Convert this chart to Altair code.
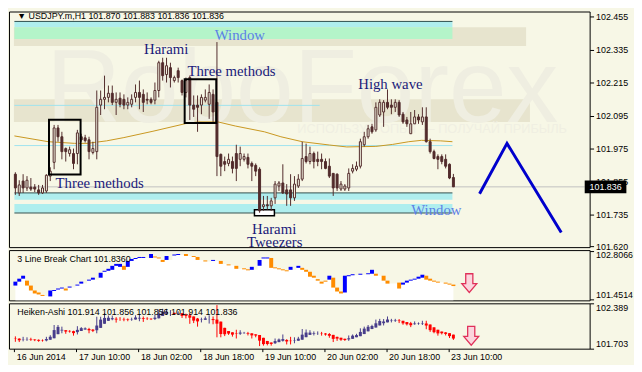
import altair as alt
import pandas as pd

# ---------------- colours / fonts ----------------
BG = "#F7F7E6"
DARK = "#522C2C"
BEIGE = "#E7E4CE"
CYAN = "#AFEEEE"
GREEN = "#B4F4C9"
SLATE = "#2F4F4F"
CYANLINE = "#9FE3EE"
GOLD = "#C8961E"
NAVY = "#1A1A7A"
LBLUE = "#5B7FE6"
SANS = "Liberation Sans"
SERIF = "Liberation Serif"

# ---------------- main candles (USDJPY H1) ----------------
opens = [101.882, 101.814, 101.857, 101.832, 101.835, 101.835, 101.825, 101.814, 101.821, 101.875,
         101.925, 102.050, 102.018, 101.975, 101.957, 101.957, 101.957, 102.018, 102.014, 102.007,
         101.961, 101.964, 102.133, 102.154, 102.161, 102.176, 102.143, 102.158, 102.154, 102.133,
         102.136, 102.161, 102.179, 102.172, 102.154, 102.154, 102.151, 102.186, 102.287, 102.244,
         102.269, 102.222, 102.258, 102.222, 102.179, 102.233, 102.133, 102.133, 102.133, 102.151,
         102.136, 102.172, 102.143, 101.954, 101.928, 101.921, 101.928, 101.957, 101.936, 101.936,
         101.943, 101.921, 101.914, 101.900, 101.764, 101.771, 101.767, 101.796, 101.839, 101.850,
         101.825, 101.825, 101.796, 101.839, 101.864, 101.946, 101.928, 101.957, 101.936, 101.936,
         101.928, 101.911, 101.885, 101.882, 101.828, 101.828, 101.832, 101.893, 101.900, 101.911,
         101.989, 102.018, 102.054, 102.043, 102.097, 102.108, 102.143, 102.133, 102.125, 102.143,
         102.100, 102.079, 102.029, 102.065, 102.090, 102.072, 102.090, 102.000, 101.964, 101.946,
         101.946, 101.936, 101.918, 101.870]
highs = [101.889, 101.860, 101.882, 101.875, 101.868, 101.846, 101.843, 101.843, 101.882, 101.907,
         102.061, 102.061, 102.036, 101.979, 101.982, 101.975, 102.043, 102.029, 102.025, 102.018,
         102.000, 102.186, 102.186, 102.240, 102.204, 102.204, 102.179, 102.179, 102.172, 102.161,
         102.172, 102.208, 102.222, 102.190, 102.179, 102.161, 102.215, 102.294, 102.305, 102.305,
         102.287, 102.240, 102.269, 102.226, 102.233, 102.240, 102.168, 102.168, 102.172, 102.190,
         102.208, 102.190, 102.362, 101.957, 101.946, 101.957, 101.946, 101.989, 101.982, 101.957,
         101.957, 101.928, 101.921, 101.907, 101.803, 101.803, 101.796, 101.857, 101.857, 101.918,
         101.846, 101.882, 101.875, 101.882, 102.000, 101.993, 101.982, 101.964, 101.964, 101.957,
         101.939, 101.939, 101.885, 101.885, 101.857, 101.846, 101.903, 101.918, 101.928, 102.011,
         102.036, 102.061, 102.065, 102.143, 102.154, 102.151, 102.190, 102.154, 102.154, 102.151,
         102.108, 102.090, 102.108, 102.115, 102.100, 102.125, 102.125, 102.011, 101.971, 101.954,
         101.954, 101.954, 101.921, 101.883]
lows = [101.807, 101.803, 101.814, 101.821, 101.821, 101.817, 101.807, 101.810, 101.814, 101.857,
        101.900, 102.000, 101.936, 101.928, 101.946, 101.900, 101.918, 102.000, 101.997, 101.936,
        101.954, 101.936, 102.097, 102.118, 102.143, 102.133, 102.097, 102.125, 102.118, 102.118,
        102.125, 102.143, 102.118, 102.108, 102.136, 102.136, 102.136, 102.161, 102.222, 102.215,
        102.197, 102.215, 102.215, 102.168, 102.161, 102.079, 102.090, 102.036, 102.100, 102.143,
        102.083, 102.072, 101.875, 101.875, 101.893, 101.911, 101.885, 101.857, 101.911, 101.928,
        101.903, 101.857, 101.875, 101.742, 101.749, 101.753, 101.749, 101.774, 101.821, 101.810,
        101.767, 101.767, 101.785, 101.832, 101.857, 101.921, 101.918, 101.903, 101.911, 101.900,
        101.900, 101.868, 101.803, 101.821, 101.821, 101.821, 101.821, 101.885, 101.893, 101.903,
        101.982, 102.011, 102.029, 102.036, 102.090, 102.054, 102.118, 102.100, 102.108, 102.090,
        102.065, 102.054, 102.029, 102.065, 102.065, 102.061, 101.997, 101.957, 101.936, 101.900,
        101.918, 101.903, 101.864, 101.836]
closes = [101.832, 101.843, 101.832, 101.860, 101.828, 101.828, 101.814, 101.832, 101.878, 101.893,
          102.050, 102.018, 101.964, 101.964, 101.971, 101.921, 102.032, 102.007, 102.004, 101.964,
          101.975, 102.125, 102.154, 102.161, 102.176, 102.143, 102.154, 102.136, 102.133, 102.143,
          102.154, 102.179, 102.161, 102.143, 102.151, 102.143, 102.186, 102.287, 102.240, 102.276,
          102.233, 102.233, 102.233, 102.179, 102.222, 102.133, 102.118, 102.125, 102.161, 102.161,
          102.179, 102.108, 101.946, 101.911, 101.918, 101.936, 101.903, 101.903, 101.957, 101.946,
          101.918, 101.911, 101.893, 101.749, 101.771, 101.767, 101.785, 101.846, 101.850, 101.814,
          101.810, 101.796, 101.846, 101.864, 101.939, 101.928, 101.957, 101.928, 101.928, 101.928,
          101.903, 101.875, 101.832, 101.832, 101.846, 101.839, 101.885, 101.903, 101.911, 102.000,
          102.018, 102.047, 102.036, 102.125, 102.143, 102.143, 102.125, 102.125, 102.143, 102.097,
          102.072, 102.065, 102.065, 102.090, 102.079, 102.090, 102.000, 101.964, 101.939, 101.936,
          101.928, 101.911, 101.868, 101.836]

# moving average (bar index, value)
ma_idx = [-0.25, 8.5, 15.25, 18.5, 23.5, 28, 35.5, 44, 47.25, 52.25, 56.75, 64.25, 68.5,
          74, 81, 85.5, 93, 97.25, 101.5, 104.75, 109.75, 112.75]
ma_val = [102.021, 102.000, 101.994, 101.994, 102.003, 102.015, 102.038, 102.066, 102.072,
          102.072, 102.057, 102.036, 102.018, 102.000, 101.988, 101.981, 101.983, 101.990,
          102.000, 102.005, 102.003, 102.000]

# 3 Line Break bricks (top, bottom, direction u/d, x = none)
lb_hi = [101.949, 102.032, 102.115, 101.977, 101.839, 101.701, 101.645, 101.576, None, 101.701,
         101.714, 101.756, 101.783, 101.756, 101.811, None, 101.866, 101.949, None, 102.005,
         102.060, None, 102.198, 102.254, 102.309, 102.392, 102.447, 102.447, 102.392, 102.530,
         102.585, 102.613, 102.641, 102.641, None, 102.724, 102.655, 102.627, 102.558, 102.668,
         None, 102.710, 102.724, None, 102.724, None, 102.668, 102.641, None, 102.544,
         None, 102.558, None, 102.530, None, 102.433, None, 102.392, None, 102.323,
         102.295, 102.364, None, 102.558, 102.627, 102.627, 102.613, 102.350, 102.323, 102.295,
         102.267, 102.364, None, 102.392, 102.336, 102.281, 102.226, 102.115, 102.019, 101.949,
         101.977, 102.115, 102.060, 101.783, 101.673, 102.115, 102.129, 102.157, None, 102.171,
         None, 102.184, 102.281, 102.171, None, 102.115, 101.977, None, None, 101.922,
         101.922, 101.977, 102.005, 102.032, 102.088, 102.143, 102.115, 102.032, 101.977, 101.949,
         None, 101.922, 101.894, 101.866]
lb_lo = [101.839, 101.949, 102.032, 101.839, 101.701, 101.618, 101.590, 101.548, None, 101.535,
         101.687, 101.728, 101.756, 101.701, 101.783, None, 101.839, 101.894, None, 101.977,
         102.005, None, 102.060, 102.226, 102.254, 102.281, 102.392, 102.364, 102.281, 102.364,
         102.530, 102.585, 102.613, 102.613, None, 102.613, 102.627, 102.599, 102.502, 102.558,
         None, 102.682, 102.696, None, 102.668, None, 102.641, 102.558, None, 102.516,
         None, 102.530, None, 102.447, None, 102.406, None, 102.309, None, 102.295,
         102.267, 102.281, None, 102.392, 102.599, 102.599, 102.336, 102.323, 102.295, 102.267,
         102.240, 102.281, None, 102.336, 102.281, 102.226, 102.088, 102.060, 101.977, 101.894,
         101.949, 102.005, 101.783, 101.673, 101.618, 101.645, 102.101, 102.129, None, 102.143,
         None, 102.157, 102.171, 102.115, None, 101.977, 101.894, None, None, 101.756,
         101.866, 101.922, 101.977, 102.005, 102.032, 102.060, 102.005, 101.977, 101.949, 101.922,
         None, 101.894, 101.866, 101.825]
lb_dir = ("uuudddddxu" "uuuduxuuxu" "uxuuuuuudu" "uuuuxudddu" "xuuxdxddxd" "xuxdxdxdxd"
          "duxuuudddd" "duxudddddd" "duddduuuxu" "xuudxddxxd" "uuuuuudddd" "xddd")

# annotation objects on the main chart
zz_idx = [119.75, 126.825, 140.825]
zz_val = [101.811, 101.994, 101.670]
price_ticks = [102.455, 102.335, 102.215, 102.095, 101.975, 101.855, 101.735, 101.620]
lb_ticks = [102.8066, 101.4514]
ha_ticks = [102.389, 101.703]
time_tick_idx = [0, 16, 32, 48, 64, 80, 96, 112]
time_labels = ["16 Jun 2014", "17 Jun 10:00", "18 Jun 02:00", "18 Jun 18:00",
               "19 Jun 10:00", "20 Jun 02:00", "20 Jun 18:00", "23 Jun 10:00"]
last_price = 101.836

ann_text = ["Window", "Harami", "Three methods", "High wave", "Three methods",
            "Harami", "Tweezers", "Window"]
ann_idx = [57.9, 38.9, 55.75, 96.75, 21.75, 66.75, 66.9, 108.6]
ann_val = [102.387, 102.337, 102.256, 102.210, 101.851, 101.683, 101.635, 101.753]
ann_col = [LBLUE, NAVY, NAVY, NAVY, NAVY, NAVY, NAVY, LBLUE]

X0, X1 = -0.375, 146.875
TAG_X1 = 157.625

# ---------------- derived tables ----------------
n = len(opens)
idx = list(range(n))
cand = pd.DataFrame({"i": idx, "o": opens, "h": highs, "l": lows, "c": closes})
cand["fill"] = [BG if c >= o else DARK for o, c in zip(opens, closes)]

ha_o, ha_c, ha_h, ha_l = [], [], [], []
for k in range(n):
    hc = (opens[k] + highs[k] + lows[k] + closes[k]) / 4
    ho = (opens[0] + closes[0]) / 2 if k == 0 else (ha_o[k - 1] + ha_c[k - 1]) / 2
    ha_o.append(ho)
    ha_c.append(hc)
    ha_h.append(max(highs[k], ho, hc))
    ha_l.append(min(lows[k], ho, hc))
ha = pd.DataFrame({"i": idx, "o": ha_o, "c": ha_c, "h": ha_h, "l": ha_l})
ha["col"] = ["#483D8B" if c >= o else "#FF0000" for o, c in zip(ha_o, ha_c)]

bricks = pd.DataFrame({"i": idx, "hi": lb_hi, "lo": lb_lo, "d": list(lb_dir)})
bricks = bricks[bricks["d"] != "x"].copy()
bricks["col"] = ["#0000FF" if d == "u" else "#FF8C00" for d in bricks["d"]]
tops = []
last = lb_lo[0]
for v in lb_lo:
    if v is not None:
        last = v
    tops.append(last)
LB_MIN, LB_MAX = 101.424, 102.834
area = pd.DataFrame({"i": idx, "top": tops, "base": [LB_MIN] * n})

bands = pd.DataFrame({
    "x0": [X0, X0, -0.25, -0.25, -0.25, -0.25],
    "x1": [131.75, 132.75, 112.75, 112.75, 112.75, 112.75],
    "y0": [102.348, 102.072, 102.416, 102.373, 101.789, 101.742],
    "y1": [102.416, 102.154, 102.437, 102.416, 101.814, 101.774],
    "col": [BEIGE, BEIGE, CYAN, GREEN, CYAN, CYAN],
})
hlines = pd.DataFrame({
    "x0": [-0.25, -0.25, -0.25, -0.25, -0.25, -0.25],
    "x1": [112.75, 112.75, 112.75, 112.75, 78.5, X1],
    "y": [102.437, 101.814, 101.741, 101.986, 102.132, last_price],
    "col": [SLATE, SLATE, SLATE, CYANLINE, CYANLINE, "#C0C0C0"],
})
boxes = pd.DataFrame({"x0": [8.675, 43.675], "x1": [16.825, 51.825],
                      "y0": [101.881, 102.068], "y1": [102.080, 102.227]})
tweez = pd.DataFrame({"x0": [61.675], "x1": [66.825], "y0": [101.731], "y1": [101.753]})
ma = pd.DataFrame({"i": ma_idx, "v": ma_val})
zz = pd.DataFrame({"i": zz_idx, "v": zz_val})
ann = pd.DataFrame({"i": ann_idx, "v": ann_val, "t": ann_text, "col": ann_col})

# ---------------- scales / helpers ----------------
xs = alt.Scale(domain=[X0, X1], nice=False, zero=False)
ys_main = alt.Scale(domain=[101.617, 102.473], nice=False, zero=False)
ys_lb = alt.Scale(domain=[LB_MIN, LB_MAX], nice=False, zero=False)
ys_ha = alt.Scale(domain=[101.703, 102.389], nice=False, zero=False)

axis_common = dict(title=None, grid=False, domain=False, tickSize=4, tickColor="black",
                   labelPadding=2, labelFont=SANS, labelFontSize=9, labelColor="black",
                   labelOverlap=False, orient="right")
main_axis = alt.Axis(values=price_ticks, format=".3f", **axis_common)
edge_base = {"condition": {"test": "datum.value > 102", "value": "top"}, "value": "bottom"}
lb_axis = alt.Axis(values=lb_ticks, format=".4f", labelBaseline=edge_base, **axis_common)
ha_axis = alt.Axis(values=ha_ticks, format=".3f", labelBaseline=edge_base, **axis_common)

label_js = "[" + ",".join("'%s'" % s for s in time_labels) + "]"
time_axis = alt.Axis(values=[t - 0.25 for t in time_tick_idx],
                     labelExpr=label_js + "[round((datum.value + 0.25) / 16)]",
                     title=None, grid=False, domain=False, tickSize=3, tickColor="black",
                     labelPadding=1, labelAlign="left", labelOffset=2, labelFlush=False,
                     labelOverlap=False, labelFont=SANS, labelFontSize=9, labelColor="black")


def X(f, axis=None):
    return alt.X(f + ":Q", scale=xs, axis=axis)


def YM(f):
    return alt.Y(f + ":Q", scale=ys_main, axis=main_axis)


# ---------------- main panel ----------------
L = []
L.append(alt.Chart(bands).mark_rect().encode(
    x=X("x0"), x2="x1", y=YM("y0"), y2="y1", color=alt.Color("col:N", scale=None)))
L.append(alt.Chart(pd.DataFrame({"i": [74], "v": [102.072], "t": ["RoboForex"]})).mark_text(
    font=SANS, fontSize=105, align="center", baseline="alphabetic", color="#EFEEE1").encode(
    x=X("i"), y=YM("v"), text="t:N"))
L.append(alt.Chart(pd.DataFrame({"i": [72.75], "v": [102.047],
                                 "t": ["ИСПОЛЬЗУЙ ОПЫТ — ПОЛУЧАЙ ПРИБЫЛЬ"]})).mark_text(
    font=SANS, fontSize=13, align="left", baseline="middle", color="#F0EFE2").encode(
    x=X("i"), y=YM("v"), text="t:N"))
L.append(alt.Chart(hlines).mark_rule(strokeWidth=1).encode(
    x=X("x0"), x2="x1", y=YM("y"), color=alt.Color("col:N", scale=None)))
L.append(alt.Chart(ma).mark_line(color=GOLD, strokeWidth=1).encode(x=X("i"), y=YM("v")))
L.append(alt.Chart(tweez).mark_rect(fill="white", stroke="black", strokeWidth=1.5).encode(
    x=X("x0"), x2="x1", y=YM("y0"), y2="y1"))
L.append(alt.Chart(cand).mark_rule(color=DARK, strokeWidth=1).encode(
    x=X("i"), y=YM("l"), y2="h"))
L.append(alt.Chart(cand).mark_bar(size=2, stroke=DARK, strokeWidth=1).encode(
    x=X("i"), y=YM("o"), y2="c", fill=alt.Fill("fill:N", scale=None)))
L.append(alt.Chart(boxes).mark_rect(fillOpacity=0, stroke="black", strokeWidth=2).encode(
    x=X("x0"), x2="x1", y=YM("y0"), y2="y1"))
L.append(alt.Chart(ann).mark_text(font=SERIF, fontSize=15, align="center", baseline="middle").encode(
    x=X("i"), y=YM("v"), text="t:N", color=alt.Color("col:N", scale=None)))
L.append(alt.Chart(zz).mark_line(color="#0000CC", strokeWidth=3).encode(x=X("i"), y=YM("v")))
L.append(alt.Chart(pd.DataFrame({"i": [0.5], "v": [102.457],
                                 "t": ["▼  USDJPY.m,H1  101.870 101.883 101.836 101.836"]})).mark_text(
    font=SANS, fontSize=9, align="left", baseline="middle", color="black").encode(
    x=X("i"), y=YM("v"), text="t:N"))
L.append(alt.Chart(pd.DataFrame({"x0": [X1], "x1": [TAG_X1], "y0": [last_price - 0.0233],
                                 "y1": [last_price + 0.0233]})).mark_rect(color="black").encode(
    x=X("x0"), x2="x1", y=YM("y0"), y2="y1"))
L.append(alt.Chart(pd.DataFrame({"i": [152.25], "v": [last_price], "t": ["101.836"]})).mark_text(
    font=SANS, fontSize=9, align="center", baseline="middle", color="white").encode(
    x=X("i"), y=YM("v"), text="t:N"))
main = alt.layer(*L).properties(width=589, height=239)

ARROW = "M-0.38,-1 L0.38,-1 L0.38,0.05 L0.8,0.05 L0,1 L-0.8,0.05 L-0.38,0.05 Z"


def YL(f):
    return alt.Y(f + ":Q", scale=ys_lb, axis=lb_axis)


P2 = [
    alt.Chart(area).mark_area(interpolate="step", color="white").encode(
        x=X("i"), y=YL("top"), y2="base"),
    alt.Chart(bricks).mark_bar(size=4).encode(
        x=X("i"), y=YL("hi"), y2="lo", color=alt.Color("col:N", scale=None)),
    alt.Chart(pd.DataFrame({"i": [0.5], "v": [102.585], "t": ["3 Line Break Chart 101.8360"]})).mark_text(
        font=SANS, fontSize=9, align="left", baseline="middle", color="black").encode(
        x=X("i"), y=YL("v"), text="t:N"),
    alt.Chart(pd.DataFrame({"i": [117.1], "v": [101.908]})).mark_point(
        shape=ARROW, size=361, filled=True, fill="#FBD5DD", stroke="#E0305A",
        strokeWidth=1.3, opacity=1).encode(x=X("i"), y=YL("v")),
]
p2 = alt.layer(*P2).properties(width=589, height=51)


def YH(f):
    return alt.Y(f + ":Q", scale=ys_ha, axis=ha_axis)


P3 = [
    alt.Chart(ha).mark_rule(strokeWidth=1).encode(
        x=X("i", time_axis), y=YH("l"), y2="h", color=alt.Color("col:N", scale=None)),
    alt.Chart(ha).mark_bar(size=3).encode(
        x=X("i", time_axis), y=YH("o"), y2="c", color=alt.Color("col:N", scale=None)),
    alt.Chart(pd.DataFrame({"i": [0.5], "v": [102.259],
                            "t": ["Heiken-Ashi 101.914 101.856 101.856 101.914 101.836"]})).mark_text(
        font=SANS, fontSize=9, align="left", baseline="middle", color="black").encode(
        x=X("i", time_axis), y=YH("v"), text="t:N"),
    alt.Chart(pd.DataFrame({"i": [117.6], "v": [101.897]})).mark_point(
        shape=ARROW, size=361, filled=True, fill="#FBD5DD", stroke="#E0305A",
        strokeWidth=1.3, opacity=1).encode(x=X("i", time_axis), y=YH("v")),
]
p3 = alt.layer(*P3).properties(width=589, height=46)

chart = alt.vconcat(main, p2, p3, spacing=3, bounds="flush").resolve_scale(
    x="independent", y="independent").properties(padding=0).configure(
    background=BG).configure_view(stroke="black", strokeWidth=1, fill=BG)

chart.save("out.html", embed_options={"renderer": "svg", "actions": False})
